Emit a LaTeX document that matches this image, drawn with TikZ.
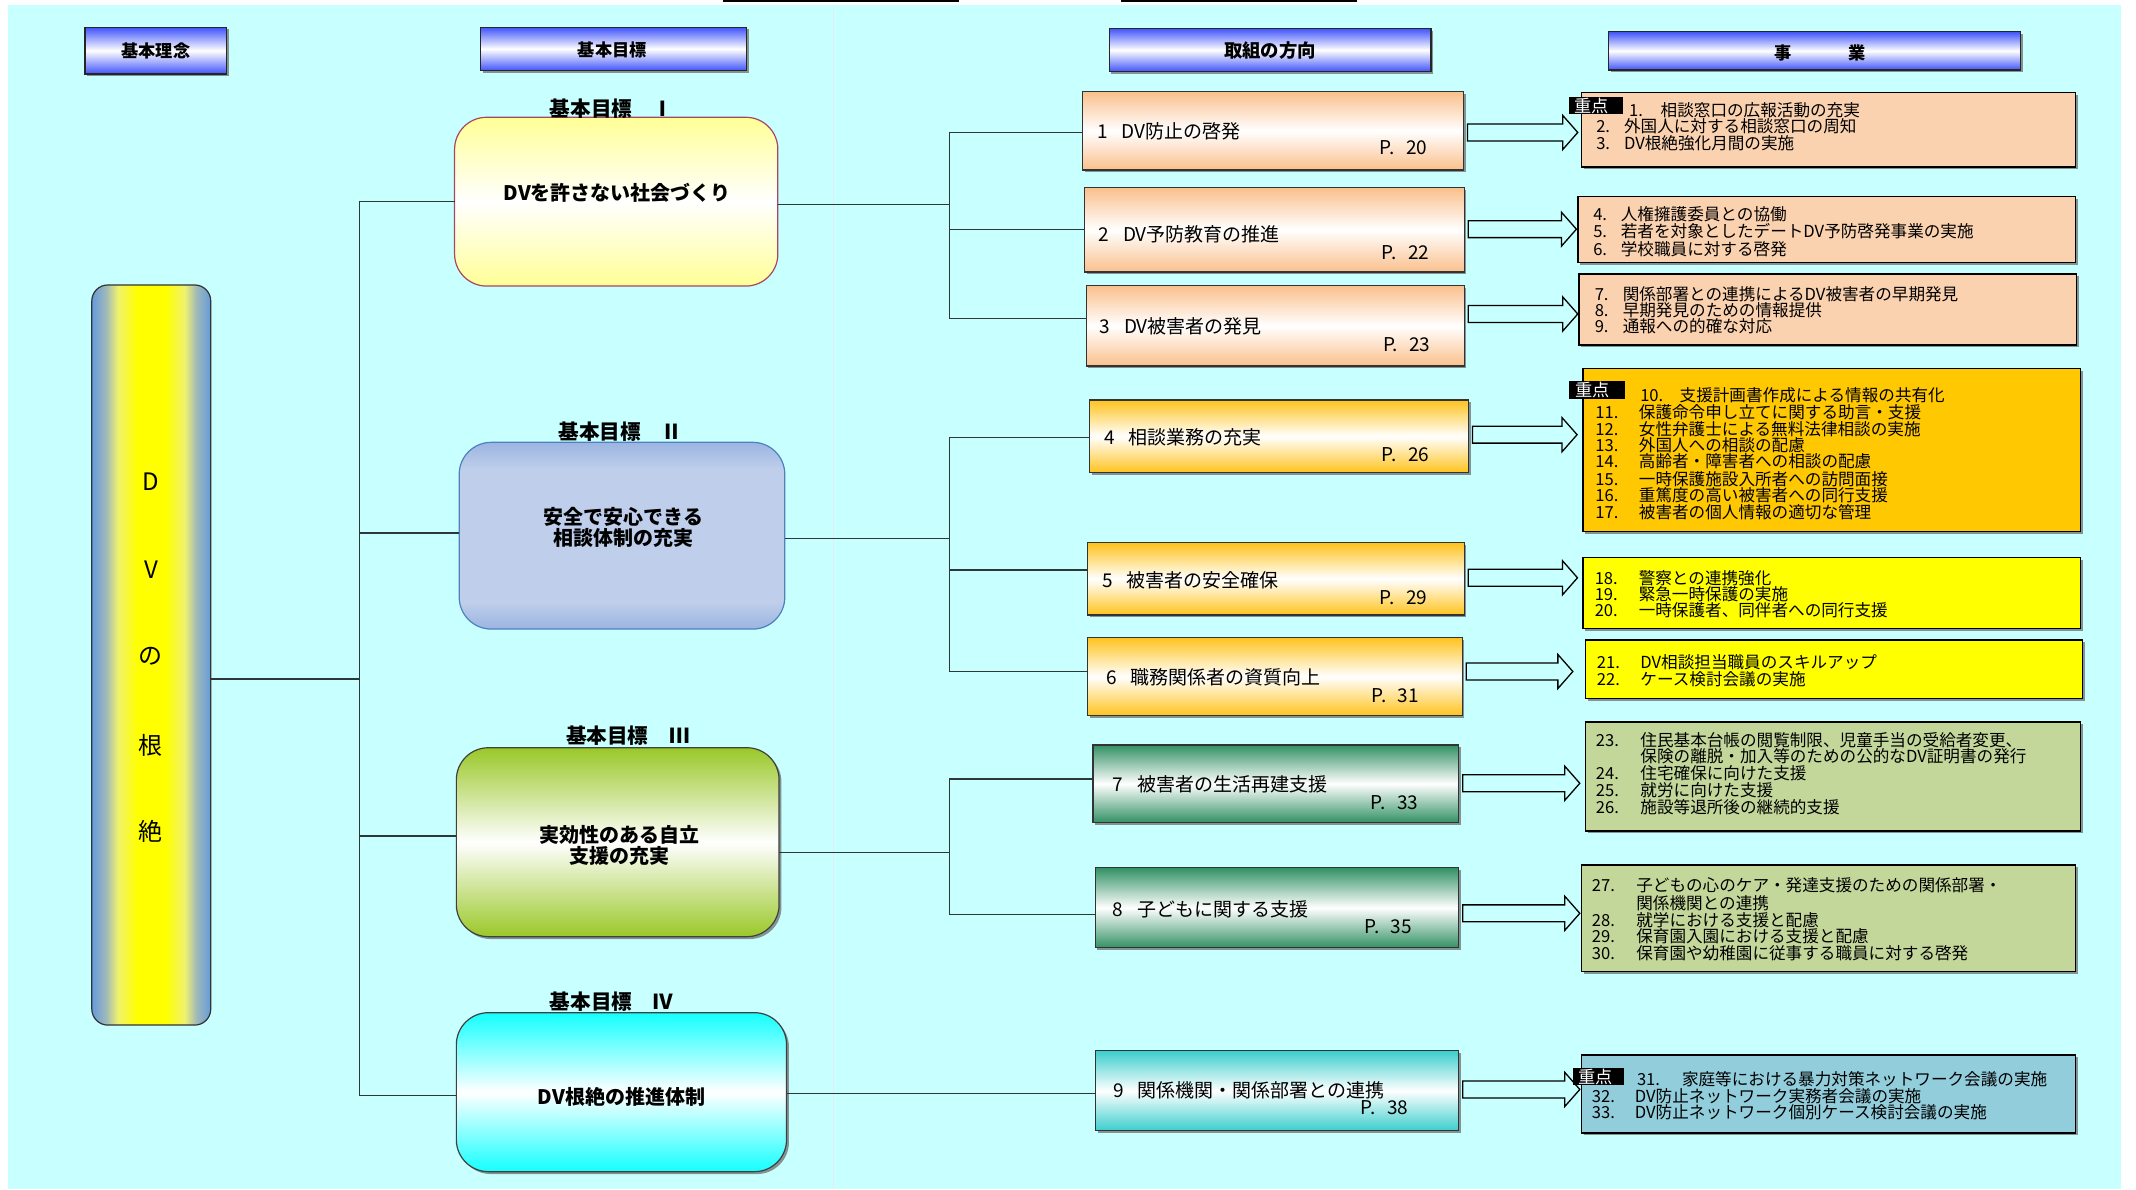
\documentclass[tikz,border=0pt]{standalone}
\usepackage{fontspec}
\setmainfont{Noto Sans CJK JP}
\usetikzlibrary{fit,shadows,calc}

\definecolor{bgc}{RGB}{200,255,255}
\definecolor{divc}{RGB}{225,236,245}
\definecolor{hdrblue}{RGB}{64,84,250}
\definecolor{colblue}{RGB}{100,155,220}
\definecolor{dvmid}{RGB}{160,185,185}
\definecolor{dvpale}{RGB}{240,242,110}
\definecolor{g1c}{RGB}{255,255,150}
\definecolor{g1b}{RGB}{170,70,100}
\definecolor{g2c}{RGB}{190,206,235}
\definecolor{g2d}{RGB}{155,180,225}
\definecolor{g2b}{RGB}{79,129,189}
\definecolor{g3c}{RGB}{154,200,40}
\definecolor{g4c}{RGB}{20,255,255}
\definecolor{dpeach}{RGB}{250,192,140}
\definecolor{dgold}{RGB}{255,195,30}
\definecolor{dgreen}{RGB}{50,145,100}
\definecolor{dteal}{RGB}{60,205,205}
\definecolor{ppeach}{RGB}{251,210,175}
\definecolor{pgold}{RGB}{255,200,0}
\definecolor{pyellow}{RGB}{255,255,0}
\definecolor{polive}{RGB}{196,215,155}
\definecolor{pblue}{RGB}{146,205,220}
\definecolor{connc}{RGB}{45,55,55}

\pgfdeclarehorizontalshading{dvshade}{100bp}{color(0bp)=(colblue); color(25bp)=(colblue); color(31bp)=(dvmid); color(36bp)=(dvpale); color(44bp)=(yellow); color(56bp)=(yellow); color(64bp)=(dvpale); color(69bp)=(dvmid); color(75bp)=(colblue); color(100bp)=(colblue)}
\pgfdeclareverticalshading{gtwoshade}{100bp}{color(0bp)=(g2d); color(25bp)=(g2d); color(32bp)=(g2c); color(68bp)=(g2c); color(75bp)=(g2d); color(100bp)=(g2d)}

\tikzset{
  boxbase/.style={inner sep=0pt, outer sep=0pt},
  shd/.style={drop shadow={shadow xshift=1.1pt, shadow yshift=-1.1pt, fill=black!60, opacity=0.7}},
  hdr/.style={boxbase, draw=black!85, line width=0.6pt, top color=hdrblue, bottom color=hdrblue, middle color=white, shd},
  dvcol/.style={boxbase, draw=black!80, line width=0.6pt, rounded corners=8pt, shading=dvshade},
  gbox/.style={boxbase, line width=0.6pt, rounded corners=16pt},
  gshd/.style={drop shadow={shadow xshift=1.2pt, shadow yshift=-1.2pt, fill=black!60, opacity=0.7}},
  dbox/.style={boxbase, draw=black!80, line width=0.6pt, shd},
  pbox/.style={boxbase, draw=black, line width=0.8pt, shd},
  jbox/.style={boxbase, fill=black},
  conn/.style={draw=connc, line width=0.6pt},
  barr/.style={draw=black, line width=0.65pt, fill=bgc, line join=miter},
  hdrtxt/.style={inner sep=0pt, font=\fontsize{8.6pt}{10pt}\selectfont\bfseries},
  glab/.style={inner sep=0pt, font=\fontsize{10.3pt}{12pt}\selectfont\bfseries},
  gtxt/.style={inner sep=0pt, align=center, font=\fontsize{10pt}{10.4pt}\selectfont\bfseries},
  dtxt/.style={inner sep=0pt, font=\fontsize{9.5pt}{11pt}\selectfont},
  ptxt/.style={inner sep=0pt, anchor=base west, font=\fontsize{8.3pt}{9pt}\selectfont},
  jtxt/.style={inner sep=0pt, text=white, font=\fontsize{8.6pt}{9pt}\selectfont},
  dvtxt/.style={inner sep=0pt, font=\fontsize{12pt}{14pt}\selectfont}
}

\newcommand{\pl}[6]{\node[ptxt] (#1) at (#2,#3) {\makebox[#4][l]{#5}#6};}
\newcommand{\barrow}[4]{%
  \path ($(#1.east)+(3,#4)$) coordinate (ba0);
  \path ($(#1.east -| #2.west)+(-#3,#4)$) coordinate (ba1);
  \draw[barr] ($(ba0)+(0,-6.2)$) -- ($(ba1)+(-11,-6.2)$) -- ($(ba1)+(-11,-12.5)$) -- (ba1)
     -- ($(ba1)+(-11,12.5)$) -- ($(ba1)+(-11,6.2)$) -- ($(ba0)+(0,6.2)$) -- cycle;
}

\begin{document}
\begin{tikzpicture}[x=0.6811pt,y=-0.6811pt]
\useasboundingbox (0,0) rectangle (1568,873);
\fill[white] (0,0) rectangle (1568,873);
\fill[bgc] (6,4) rectangle (1557,873);
\draw[divc, line width=0.6pt] (612,5) -- (612,873);
\draw[black, line width=1.2pt] (531,0.4) -- (704,0.4);
\draw[black, line width=1.2pt] (823,0.4) -- (996,0.4);

% headers
\node[hdr, fit={(62.4,20) (166.5,54.3)}] (h1) {};
\node[hdrtxt] (h1t) at (114.4,37.2) {基本理念};
\node[hdr, fit={(352.7,20) (547.9,51.9)}] (h2) {};
\node[hdrtxt] (h2t) at (449.5,36.6) {基本目標};
\node[hdr, fit={(814.3,20.8) (1050.4,52.6)}] (h3) {};
\node[hdrtxt, font=\fontsize{9.2pt}{10pt}\selectfont\bfseries] (h3t) at (932.4,37.4) {取組の方向};
\node[hdr, fit={(1181,23.3) (1483.3,51.4)}] (h4) {};
\node[hdrtxt] (h4t) at (1336,38.6) {事\hspace{28.2pt}業};

% DV column
\node[dvcol, fit={(67.4,209.2) (154.7,752.5)}] (dv) {};
\node[dvtxt] (dv1) at (110.8,353.6) {D};
\node[dvtxt] (dv2) at (110.8,418.4) {V};
\node[dvtxt] (dv3) at (110.8,482) {の};
\node[dvtxt] (dv4) at (110.8,546.9) {根};
\node[dvtxt] (dv5) at (110.8,610.5) {絶};

% goals
\node[gbox, draw=g1b, top color=g1c, bottom color=g1c, middle color=white, fit={(333.7,86.1) (571,210)}] (g1) {};
\node[gbox, draw=g2b, shading=gtwoshade, fit={(337.1,324.7) (576.1,461.8)}] (g2) {};
\node[gbox, gshd, draw=black!75, top color=g3c, bottom color=g3c, middle color=white, fit={(335,548.9) (571.9,687.6)}] (g3) {};
\node[gbox, gshd, draw=black!75, top color=g4c, bottom color=g4c, middle color=white, fit={(335,743.4) (577.4,860.1)}] (g4) {};
\node[glab] (g1l) at (449,79.5) {基本目標　Ⅰ};
\node[glab] (g2l) at (455.5,316.9) {基本目標　Ⅱ};
\node[glab] (g3l) at (461,540.3) {基本目標　Ⅲ};
\node[glab] (g4l) at (449,735.4) {基本目標　Ⅳ};
\node[gtxt] (g1t) at (453.2,141.9) {DVを許さない社会づくり};
\node[gtxt] (g2t) at (457.8,386.9) {安全で安心できる\\相談体制の充実};
\node[gtxt] (g3t) at (454.7,620.7) {実効性のある自立\\支援の充実};
\node[gtxt] (g4t) at (456.2,805) {DV根絶の推進体制};

% directions
\node[dbox, top color=dpeach, bottom color=dpeach, middle color=white, fit={(794.7,67.3) (1074.3,124.8)}] (d1) {};
\node[dbox, top color=dpeach, bottom color=dpeach, middle color=white, fit={(796.2,137.8) (1074.8,199.7)}] (d2) {};
\node[dbox, top color=dpeach, bottom color=dpeach, middle color=white, fit={(797.3,209.7) (1074.8,268.7)}] (d3) {};
\node[dbox, top color=dgold, bottom color=dgold, middle color=white, fit={(799.8,293.6) (1077.9,347)}] (d4) {};
\node[dbox, top color=dgold, bottom color=dgold, middle color=white, fit={(798.3,398.4) (1074.8,451.5)}] (d5) {};
\node[dbox, top color=dgold, bottom color=dgold, middle color=white, fit={(798.3,467.9) (1073.3,525.4)}] (d6) {};
\node[dbox, top color=dgreen, bottom color=dgreen, middle color=white, fit={(802.3,546.9) (1070.8,603.7)}] (d7) {};
\node[dbox, top color=dgreen, bottom color=dgreen, middle color=white, fit={(803.9,637) (1070.8,695.7)}] (d8) {};
\node[dbox, top color=dteal, bottom color=dteal, middle color=white, fit={(804.4,771.3) (1070.8,830)}] (d9) {};

\node[dtxt, anchor=west] (d1t) at (805.4,96.2) {\makebox[12.1pt][l]{1}DV防止の啓発};
\node[dtxt, anchor=west] (d2t) at (806.4,172) {\makebox[12.1pt][l]{2}DV予防教育の推進};
\node[dtxt, anchor=west] (d3t) at (807.1,239.8) {\makebox[12.1pt][l]{3}DV被害者の発見};
\node[dtxt, anchor=west] (d4t) at (810.5,321.3) {\makebox[12.1pt][l]{4}相談業務の充実};
\node[dtxt, anchor=west] (d5t) at (809,425.8) {\makebox[12.1pt][l]{5}被害者の安全確保};
\node[dtxt, anchor=west] (d6t) at (812,497.5) {\makebox[12.1pt][l]{6}職務関係者の資質向上};
\node[dtxt, anchor=west] (d7t) at (816.6,575.8) {\makebox[12.1pt][l]{7}被害者の生活再建支援};
\node[dtxt, anchor=west] (d8t) at (816.6,667.3) {\makebox[12.1pt][l]{8}子どもに関する支援};
\node[dtxt, anchor=west] (d9t) at (817.1,800.2) {\makebox[12.1pt][l]{9}関係機関・関係部署との連携};

\node[dtxt, anchor=east] (d1p) at (1047.9,108.4) {P.\hspace{0.6em}20};
\node[dtxt, anchor=east] (d2p) at (1049.4,185.5) {P.\hspace{0.6em}22};
\node[dtxt, anchor=east] (d3p) at (1050.4,253.3) {P.\hspace{0.6em}23};
\node[dtxt, anchor=east] (d4p) at (1049.4,334) {P.\hspace{0.6em}26};
\node[dtxt, anchor=east] (d5p) at (1047.9,438.8) {P.\hspace{0.6em}29};
\node[dtxt, anchor=east] (d6p) at (1041.8,511) {P.\hspace{0.6em}31};
\node[dtxt, anchor=east] (d7p) at (1041.3,589.2) {P.\hspace{0.6em}33};
\node[dtxt, anchor=east] (d8p) at (1036.7,680.3) {P.\hspace{0.6em}35};
\node[dtxt, anchor=east] (d9p) at (1034.1,812.9) {P.\hspace{0.6em}38};

% projects
\node[pbox, fill=ppeach, fit={(1160.8,67.8) (1523.7,122.8)}] (p1) {};
\node[pbox, fill=ppeach, fit={(1158.2,144.4) (1523.7,192.8)}] (p2) {};
\node[pbox, fill=ppeach, fit={(1159.2,201.1) (1524.2,253.3)}] (p3) {};
\node[pbox, fill=pgold, fit={(1162.2,270.4) (1527.3,390.3)}] (p4) {};
\node[pbox, fill=pyellow, fit={(1162.2,409.4) (1527.3,461.3)}] (p5) {};
\node[pbox, fill=pyellow, fit={(1163.8,470) (1528.8,512.7)}] (p6) {};
\node[pbox, fill=polive, fit={(1163.8,529.8) (1527.3,610)}] (p7) {};
\node[pbox, fill=polive, fit={(1160.8,635) (1523.7,713.3)}] (p8) {};
\node[pbox, fill=pblue, fit={(1160.8,774.5) (1523.7,831.5)}] (p9) {};

% connectors: left tree
\coordinate (lt) at (263.8,498.5);
\draw[conn] (lt -| dv.east) -- (lt);
\draw[conn] (g1.west) -- (g1.west -| lt) -- ($(g4.west -| lt)+(0,2.6)$) -- ($(g4.west)+(0,2.6)$);
\draw[conn] ($(g2.west)+(0,-2)$) -- ($(g2.west -| lt)+(0,-2)$);
\draw[conn] ($(g3.west)+(0,-4.5)$) -- ($(g3.west -| lt)+(0,-4.5)$);

% connectors: right trees
\coordinate (rt) at (697,0);
\draw[conn] ($(g1.east)+(0,1.8)$) -- ($(g1.east -| rt)+(0,1.8)$);
\draw[conn] ($(d1.west)+(0,1.2)$) -- ($(d1.west -| rt)+(0,1.2)$) -- ($(d3.west -| rt)+(0,-5.2)$) -- ($(d3.west)+(0,-5.2)$);
\draw[conn] (d2.west) -- (d2.west -| rt);
\draw[conn] ($(g2.east)+(0,2)$) -- ($(g2.east -| rt)+(0,2)$);
\draw[conn] ($(d4.west)+(0,1)$) -- ($(d4.west -| rt)+(0,1)$) -- ($(d6.west -| rt)+(0,-4)$) -- ($(d6.west)+(0,-4)$);
\draw[conn] ($(d5.west)+(0,-6.5)$) -- ($(d5.west -| rt)+(0,-6.5)$);
\draw[conn] ($(g3.east)+(0,7.3)$) -- ($(g3.east -| rt)+(0,7.3)$);
\draw[conn] ($(d7.west)+(0,-3.4)$) -- ($(d7.west -| rt)+(0,-3.4)$) -- ($(d8.west -| rt)+(0,4.8)$) -- ($(d8.west)+(0,4.8)$);
\draw[conn] ($(g4.east)+(0,0.8)$) -- ($(g4.east -| d9.west)+(0,0.8)$);

% block arrows
\barrow{d1}{p1}{2.6}{1.2}
\barrow{d2}{p2}{1}{-0.5}
\barrow{d3}{p3}{1}{-8.7}
\barrow{d4}{p4}{4.5}{-1.2}
\barrow{d5}{p5}{4.2}{-0.8}
\barrow{d6}{p6}{9.2}{-3.7}
\barrow{d7}{p7}{4.1}{-0.3}
\barrow{d8}{p8}{1.1}{4.1}
\barrow{d9}{p9}{1.1}{-0.9}

% jyuten labels
\node[jbox, fit={(1151.6,71.4) (1191.7,83.9)}] (j1) {};
\node[jtxt] (j1t) at (1168.5,77.8) {重点};
\node[jbox, fit={(1151.6,279.7) (1192.8,293.2)}] (j4) {};
\node[jtxt] (j4t) at (1169,286.4) {重点};
\node[jbox, fit={(1154.6,784.3) (1192.2,796.5)}] (j9) {};
\node[jtxt] (j9t) at (1171,790.4) {重点};

% project texts
\pl{p1a}{1195.6}{85.4}{15.8pt}{1.}{相談窓口の広報活動の充実}
\pl{p1b}{1171.5}{97.6}{13.9pt}{2.}{外国人に対する相談窓口の周知}
\pl{p1c}{1171.5}{109.8}{13.9pt}{3.}{DV根絶強化月間の実施}

\pl{p2a}{1169.3}{161.7}{13.8pt}{4.}{人権擁護委員との協働}
\pl{p2b}{1169.3}{174.4}{13.8pt}{5.}{若者を対象としたデートDV予防啓発事業の実施}
\pl{p2c}{1169.3}{187.2}{13.8pt}{6.}{学校職員に対する啓発}

\pl{p3a}{1170.4}{220.7}{14pt}{7.}{関係部署との連携によるDV被害者の早期発見}
\pl{p3b}{1170.4}{232.2}{14pt}{8.}{早期発見のための情報提供}
\pl{p3c}{1170.4}{244.4}{14pt}{9.}{通報への的確な対応}

\pl{p4a}{1203.8}{294.6}{19.7pt}{10.}{支援計画書作成による情報の共有化}
\pl{p4b}{1170.8}{307.3}{21.8pt}{11.}{保護命令申し立てに関する助言・支援}
\pl{p4c}{1170.8}{319.8}{21.8pt}{12.}{女性弁護士による無料法律相談の実施}
\pl{p4d}{1170.8}{331.5}{21.8pt}{13.}{外国人への相談の配慮}
\pl{p4e}{1170.8}{343.5}{21.8pt}{14.}{高齢者・障害者への相談の配慮}
\pl{p4f}{1170.8}{356.2}{21.8pt}{15.}{一時保護施設入所者への訪問面接}
\pl{p4g}{1170.8}{368.5}{21.8pt}{16.}{重篤度の高い被害者への同行支援}
\pl{p4h}{1170.8}{380.7}{21.8pt}{17.}{被害者の個人情報の適切な管理}

\pl{p5a}{1170.4}{429.2}{22pt}{18.}{警察との連携強化}
\pl{p5b}{1170.4}{440.9}{22pt}{19.}{緊急一時保護の実施}
\pl{p5c}{1170.4}{452.9}{22pt}{20.}{一時保護者、同伴者への同行支援}

\pl{p6a}{1171.9}{490.8}{21.8pt}{21.}{DV相談担当職員のスキルアップ}
\pl{p6b}{1171.9}{503.1}{21.8pt}{22.}{ケース検討会議の実施}

\pl{p7a}{1171.2}{548.3}{22.3pt}{23.}{住民基本台帳の閲覧制限、児童手当の受給者変更、}
\pl{p7b}{1171.2}{560.1}{22.3pt}{}{保険の離脱・加入等のための公的なDV証明書の発行}
\pl{p7c}{1171.2}{572.3}{22.3pt}{24.}{住宅確保に向けた支援}
\pl{p7d}{1171.2}{585}{22.3pt}{25.}{就労に向けた支援}
\pl{p7e}{1171.2}{597.3}{22.3pt}{26.}{施設等退所後の継続的支援}

\pl{p8a}{1168.3}{654.8}{22.2pt}{27.}{子どもの心のケア・発達支援のための関係部署・}
\pl{p8b}{1168.3}{667.3}{22.2pt}{}{関係機関との連携}
\pl{p8c}{1168.3}{680}{22.2pt}{28.}{就学における支援と配慮}
\pl{p8d}{1168.3}{692}{22.2pt}{29.}{保育園入園における支援と配慮}
\pl{p8e}{1168.3}{704.4}{22.2pt}{30.}{保育園や幼稚園に従事する職員に対する啓発}

\pl{p9a}{1201.4}{796.9}{22.5pt}{31.}{家庭等における暴力対策ネットワーク会議の実施}
\pl{p9b}{1168.3}{809.2}{21.5pt}{32.}{DV防止ネットワーク実務者会議の実施}
\pl{p9c}{1168.3}{821.4}{21.5pt}{33.}{DV防止ネットワーク個別ケース検討会議の実施}
\end{tikzpicture}
\end{document}
